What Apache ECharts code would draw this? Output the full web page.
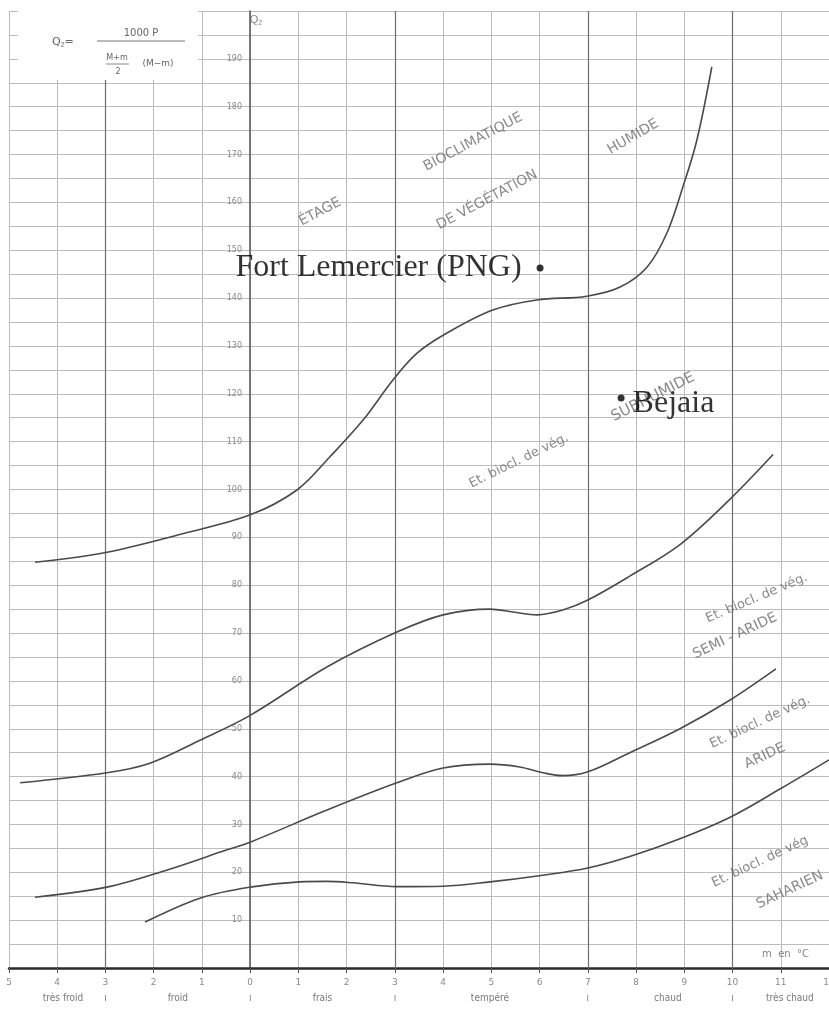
<!DOCTYPE html>
<html><head><meta charset="utf-8">
<script src="https://cdn.jsdelivr.net/npm/echarts@6/dist/echarts.min.js"></script>
<style>html,body{margin:0;padding:0;background:#fff}#c{width:829px;height:1010px}</style>
</head><body><div id="c"></div><script>
// Limits between bioclimatic stages: [m (°C), Q2]
const limitHumide = [[-4.46,84.8],[-2.97,86.9],[-1.5,90.5],[0,94.7],[0.97,99.9],[1.65,106.8],[2.34,114.5],[2.96,122.9],[3.46,128.5],[4.08,132.7],[5.03,137.5],[5.94,139.6],[6.98,140.4],[7.67,142.3],[8.23,146.5],[8.64,153.6],[8.97,163.2],[9.26,173],[9.57,188.3]];
const limitSubhumide = [[-4.77,38.7],[-2.97,40.8],[-2.08,42.8],[-1.04,47.6],[0,52.8],[1.59,62.9],[3.04,70.2],[4.0,73.8],[4.97,75],[5.45,74.4],[5.95,73.8],[6.48,74.8],[7.0,76.9],[7.87,81.9],[8.91,88.5],[9.95,98],[10.84,107.3]];
const limitSemiAride = [[-4.46,14.8],[-2.97,16.9],[-1.72,20.5],[-0.48,24.7],[0,26.3],[1.59,33],[3.04,38.7],[4.0,41.8],[4.97,42.6],[5.59,42],[6.07,40.8],[6.48,40.2],[7.0,41],[7.87,45],[8.91,50],[9.95,56],[10.9,62.5]];
const limitAride = [[-2.18,9.6],[-1.04,14.6],[0,16.9],[1.03,18],[1.59,18.1],[2.13,17.8],[3.04,17],[4.0,17.1],[4.97,18],[6.07,19.4],[7.0,20.9],[7.87,23.3],[8.91,27],[9.95,31.5],[11,37.5],[12,43.5]];

// Stations
const stations = [
  {name:'Fort Lemercier (PNG)', m:6.01, q:146.3, side:'left'},
  {name:'Bejaia', m:7.69, q:119.1, side:'right'}
];

// Tick labels
const xTickValues = [-5,-4,-3,-2,-1,0,1,2,3,4,5,6,7,8,9,10,11,12];
const yTickValues = [10,20,30,40,50,60,70,80,90,100,110,120,130,140,150,160,170,180,190];
const thermalLimits = [-3,3,7,10];
const zoneNames = ['très froid','froid','frais','tempéré','chaud','très chaud'];
const zoneCenters = [-3.88,-1.5,1.5,4.97,8.66,11.19];
const zoneSeparators = [-3,0,3,7,10];

// Stage labels written on the diagram: [m, Q2, text, rotation, fontSize]
const stageTexts = [
  [1.45,158.0,'ÉTAGE',28,14],
  [4.62,172.6,'BIOCLIMATIQUE',28,14],
  [4.91,160.5,'DE VÉGÉTATION',28,14],
  [7.94,173.7,'HUMIDE',30,14],
  [5.57,106.0,'Et. biocl. de vég.',26,13],
  [8.35,119.3,'SUBHUMIDE',27,15],
  [10.5,77.3,'Et. biocl. de vég.',23,13],
  [10.05,69.4,'SEMI - ARIDE',25,14],
  [10.57,51.4,'Et. biocl. de vég.',25,13],
  [10.67,44.3,'ARIDE',25,14],
  [10.57,22.2,'Et. biocl. de vég',25,13],
  [11.19,16.3,'SAHARIEN',25,14]
];

const zoneLabelMap = {};
zoneCenters.forEach((v,i)=>{zoneLabelMap[v.toFixed(2)] = zoneNames[i];});
zoneSeparators.forEach(v=>{zoneLabelMap[v.toFixed(2)] = 'ı';});

const curveStyle = {color:'#4a4a4a', width:1.6};
function curve(data){
  return {type:'line', data:data, smooth:0.35, symbol:'none', lineStyle:curveStyle, silent:true, z:5};
}

const chart = echarts.init(document.getElementById('c'), null, {renderer:'canvas'});
chart.setOption({
  backgroundColor:'#ffffff',
  animation:false,
  grid:{left:9, right:0, top:11, bottom:42, containLabel:false, outerBoundsMode:'none'},
  xAxis:[{
    type:'value', min:-5, max:12, interval:0.5, position:'bottom',
    axisLine:{onZero:false, lineStyle:{color:'#2a2a2a', width:2.5}},
    axisTick:{show:true, customValues:xTickValues, length:5, inside:false, lineStyle:{color:'#555'}},
    axisLabel:{customValues:xTickValues, formatter:v=>String(Math.abs(v)), color:'#8a8a8a', fontSize:9, margin:10, fontFamily:'DejaVu Sans'},
    splitLine:{show:true, lineStyle:{color:'#b9bdbd', width:1}}
  },{
    type:'value', min:-5, max:12, position:'bottom', offset:17,
    axisLine:{show:false, onZero:false}, axisTick:{show:false}, splitLine:{show:false},
    axisLabel:{customValues:zoneCenters.concat(zoneSeparators), formatter:v=>zoneLabelMap[v.toFixed(2)]||'', color:'#7a7a7a', fontSize:10, margin:8, fontFamily:'DejaVu Sans Condensed'}
  }],
  yAxis:{
    type:'value', min:0, max:200, interval:5, position:'left', offset:-241,
    axisLine:{show:true, onZero:false, lineStyle:{color:'#555', width:1.5}},
    axisTick:{show:false},
    axisLabel:{customValues:yTickValues, color:'#8a8a8a', fontSize:8, margin:8, fontFamily:'DejaVu Sans'},
    splitLine:{show:true, lineStyle:{color:'#b9bdbd', width:1}}
  },
  graphic:[
    {type:'rect', shape:{x:18,y:10,width:180,height:70}, style:{fill:'#ffffff'}, z:10},
    {type:'text', x:52, y:36, style:{text:'{a|Q}{b|2}{a|=}', rich:{a:{fontSize:11,fill:'#666',fontFamily:'DejaVu Sans'},b:{fontSize:7,fill:'#666',padding:[6,0,0,0]}}}, z:11},
    {type:'text', x:141, y:33, style:{text:'1000 P', fontSize:10, fill:'#666', align:'center', verticalAlign:'middle', fontFamily:'DejaVu Sans'}, z:11},
    {type:'line', shape:{x1:97,y1:41,x2:185,y2:41}, style:{stroke:'#777',lineWidth:1}, z:11},
    {type:'text', x:117, y:58, style:{text:'M+m', fontSize:8, fill:'#666', align:'center', verticalAlign:'middle', fontFamily:'DejaVu Sans'}, z:11},
    {type:'line', shape:{x1:106,y1:64,x2:129,y2:64}, style:{stroke:'#888',lineWidth:1}, z:11},
    {type:'text', x:118, y:72, style:{text:'2', fontSize:8, fill:'#666', align:'center', verticalAlign:'middle', fontFamily:'DejaVu Sans'}, z:11},
    {type:'text', x:158, y:64, style:{text:'(M−m)', fontSize:9, fill:'#666', align:'center', verticalAlign:'middle', fontFamily:'DejaVu Sans'}, z:11}
  ],
  series:[
    curve(limitHumide), curve(limitSubhumide), curve(limitSemiAride), curve(limitAride),
    {type:'line', data:[], silent:true,
     markLine:{silent:true, symbol:'none', label:{show:false}, lineStyle:{color:'#6e6e6e', width:1.2, type:'solid'},
       data:thermalLimits.map(v=>({xAxis:v}))}},
    {type:'scatter', symbolSize:0, silent:true, z:6,
     data:stageTexts.map(t=>({value:[t[0],t[1]], label:{show:true, formatter:t[2], rotate:t[3], fontSize:t[4], color:'#6c6c6c', fontFamily:'DejaVu Sans', position:'inside'}}))},
    {type:'scatter', symbolSize:0, silent:true, z:6,
     data:[
       {value:[0.12,198.2], label:{show:true, position:'inside', formatter:'{a|Q}{b|2}', rich:{a:{fontSize:11,color:'#666'},b:{fontSize:7,color:'#666',padding:[6,0,0,0]}}}},
       {value:[11.1,2.8], label:{show:true, position:'inside', formatter:'m  en  °C', fontSize:10, color:'#666', fontFamily:'DejaVu Sans'}}
     ]},
    {type:'scatter', symbol:'circle', symbolSize:7, itemStyle:{color:'#000'}, z:8,
     data:stations.map(s=>({value:[s.m,s.q], name:s.name, label:{show:true, position:s.side, distance:s.side==='left'?15:8, offset:s.side==='right'?[0,5]:[0,0], formatter:'{b}', fontSize:32, color:'#000', fontFamily:'Liberation Serif'}}))}
  ]
});
</script></body></html>
